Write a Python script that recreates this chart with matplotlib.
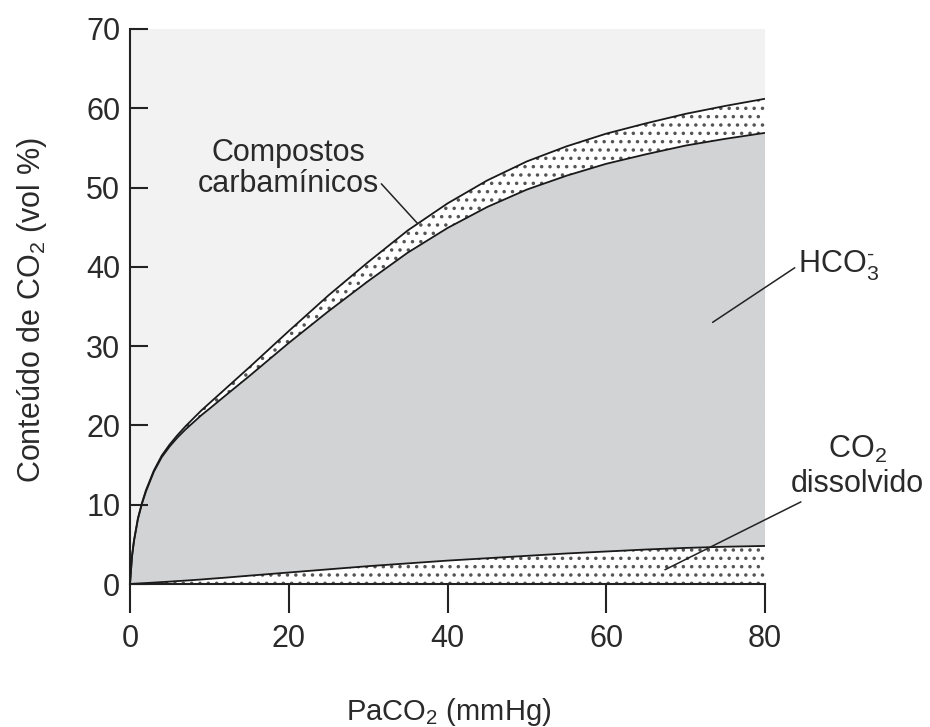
import matplotlib
matplotlib.use("Agg")
import matplotlib.pyplot as plt
import numpy as np

plt.rcParams['font.family'] = ['Liberation Sans', 'DejaVu Sans']
plt.rcParams['mathtext.fontset'] = 'custom'
plt.rcParams['mathtext.rm'] = 'Liberation Sans'
plt.rcParams['mathtext.it'] = 'Liberation Sans:italic'
plt.rcParams['mathtext.bf'] = 'Liberation Sans:bold'
plt.rcParams['hatch.linewidth'] = 1.3

# ---- data ----
paco2 = [0, 0.25, 0.5, 1, 1.5, 2, 3, 4, 5, 6, 7, 8, 9, 10, 12, 15, 20, 25,
         30, 35, 40, 45, 50, 55, 60, 65, 70, 75, 80]
total_co2 = [0, 3.5, 5.5, 8.3, 10.2, 11.8, 14.3, 16.2, 17.6, 18.8, 19.9, 20.9,
             21.9, 22.8, 24.6, 27.3, 31.9, 36.4, 40.6, 44.6, 48.0, 50.9, 53.3,
             55.2, 56.8, 58.1, 59.3, 60.3, 61.2]
hco3_top = [0, 3.45, 5.4, 8.2, 10.1, 11.65, 14.15, 16.0, 17.35, 18.5, 19.5,
            20.4, 21.3, 22.1, 23.75, 26.2, 30.4, 34.4, 38.2, 41.8, 44.9, 47.55,
            49.75, 51.5, 53.0, 54.2, 55.3, 56.15, 56.9]
dissolved = [0, 0.015, 0.03, 0.06, 0.09, 0.12, 0.18, 0.24, 0.3, 0.37, 0.43,
             0.5, 0.57, 0.65, 0.8, 1.05, 1.45, 1.85, 2.25, 2.6, 2.95, 3.25,
             3.55, 3.85, 4.1, 4.35, 4.55, 4.7, 4.8]

xticks = [0, 20, 40, 60, 80]
yticks = [0, 10, 20, 30, 40, 50, 60, 70]

FS = 22
TXT = '#2a2a2a'
fig = plt.figure(figsize=(9.3, 7.27), dpi=100)
ax = fig.add_axes([130/930, 1-584/727, 635/930, 555/727])
ax.set_facecolor('#f2f2f2')
ax.set_xlim(0, 80)
ax.set_ylim(0, 70)

x = np.array(paco2)
tot = np.array(total_co2)
hco = np.array(hco3_top)
dis = np.array(dissolved)

# HCO3 region
ax.fill_between(x, dis, hco, facecolor='#d2d3d5', edgecolor='none', zorder=1)
# carbamino band (stippled)
ax.fill_between(x, hco, tot, facecolor='white', edgecolor='#555555',
                hatch='..', linewidth=0, zorder=2)
# dissolved band (stippled)
ax.fill_between(x, 0, dis, facecolor='white', edgecolor='#555555',
                hatch='..', linewidth=0, zorder=2)

for yy in (tot, hco, dis):
    ax.plot(x, yy, color='#1a1a1a', lw=1.3, zorder=3, solid_capstyle='butt',
            solid_joinstyle='round')
ax.plot([80, 80], [dis[-1], hco[-1]], color='#bbbbbb', lw=0.8,
        ls=(0, (1, 2)), zorder=3)

# spines / ticks
for s in ('top', 'right'):
    ax.spines[s].set_visible(False)
for s in ('left', 'bottom'):
    ax.spines[s].set_linewidth(1.5)
    ax.spines[s].set_color('#222222')
ax.set_xticks(xticks)
ax.set_yticks(yticks)
ax.tick_params(axis='x', direction='out', length=21, width=1.5, pad=8,
               labelsize=FS, colors='#222222', labelcolor=TXT)
ax.tick_params(axis='y', direction='in', length=13, width=1.5, pad=7,
               labelsize=FS, colors='#222222', labelcolor=TXT)

ax.set_xlabel('PaCO$_2$ (mmHg)', fontsize=21, color=TXT)
ax.xaxis.set_label_coords(0.502, -0.202)
ax.set_ylabel('Conteúdo de CO$_2$ (vol %)', fontsize=FS, color=TXT)
ax.yaxis.set_label_coords(-0.128, 0.494)

# annotations
ax.annotate('Compostos\ncarbamínicos', xy=(36.2, 45.5), xytext=(19.9, 52.4),
            ha='center', va='center', fontsize=FS, color=TXT, linespacing=1.05,
            arrowprops=dict(arrowstyle='-', color='#222222', lw=1.1,
                            shrinkA=0, shrinkB=0, relpos=(1.0, 0.3)),
            annotation_clip=False, zorder=5)
ax.annotate('HCO$_3^{\\text{-}}$', xy=(73.4, 33.0), xytext=(84.1, 40.2),
            ha='left', va='center', fontsize=FS, color=TXT,
            arrowprops=dict(arrowstyle='-', color='#222222', lw=1.1,
                            shrinkA=0, shrinkB=0, relpos=(-0.02, 0.45)),
            annotation_clip=False, zorder=5)
ax.text(91.7, 17.0, 'CO$_2$', ha='center', va='center', fontsize=FS,
        color=TXT, clip_on=False)
ax.annotate('dissolvido', xy=(67.4, 1.8), xytext=(91.6, 12.6),
            ha='center', va='center', fontsize=FS, color=TXT,
            arrowprops=dict(arrowstyle='-', color='#222222', lw=1.1,
                            shrinkA=0, shrinkB=0, relpos=(0.12, 0.0)),
            annotation_clip=False, zorder=5)

fig.savefig('out.png', dpi=100)
